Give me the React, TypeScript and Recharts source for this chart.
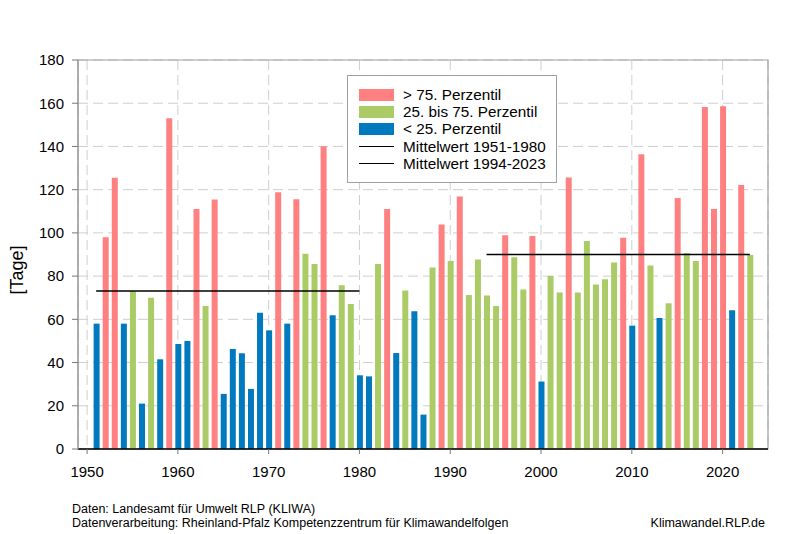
import { ComposedChart, Bar, Line, XAxis, YAxis, CartesianGrid, ReferenceArea, Legend } from "recharts";

const FONT = "'Liberation Sans', Arial, sans-serif";

const YEARS = [
  1951, 1952, 1953, 1954, 1955, 1956, 1957, 1958, 1959,
  1960, 1961, 1962, 1963, 1964, 1965, 1966, 1967, 1968, 1969,
  1970, 1971, 1972, 1973, 1974, 1975, 1976, 1977, 1978, 1979,
  1980, 1981, 1982, 1983, 1984, 1985, 1986, 1987, 1988, 1989,
  1990, 1991, 1992, 1993, 1994, 1995, 1996, 1997, 1998, 1999,
  2000, 2001, 2002, 2003, 2004, 2005, 2006, 2007, 2008, 2009,
  2010, 2011, 2012, 2013, 2014, 2015, 2016, 2017, 2018, 2019,
  2020, 2021, 2022, 2023,
];

// Tage pro Jahr
const DAYS = [
  58, 98, 125.5, 58, 73, 21, 70, 41.5, 153,
  48.6, 50, 111, 66.2, 115.4, 25.5, 46.3, 44.3, 27.8, 63.1,
  54.9, 118.8, 58, 115.6, 90.3, 85.6, 140.1, 61.9, 75.8, 67.1,
  34.1, 33.6, 85.6, 111, 44.4, 73.3, 63.7, 15.9, 84, 103.9,
  87, 116.8, 71.3, 87.7, 71, 66.2, 98.9, 88.7, 73.8, 98.6,
  31.2, 80.1, 72.4, 125.6, 72.4, 96.3, 76.1, 78.5, 86.3, 97.8,
  57.1, 136.4, 84.9, 60.6, 67.4, 116.2, 90.7, 87, 158.3, 111,
  158.6, 64.2, 122.2, 89.8,
];

// h = > 75. Perzentil, m = 25. bis 75., l = < 25.
const CLASS = [
  "l", "h", "h", "l", "m", "l", "m", "l", "h",
  "l", "l", "h", "m", "h", "l", "l", "l", "l", "l",
  "l", "h", "l", "h", "m", "m", "h", "l", "m", "m",
  "l", "l", "m", "h", "l", "m", "l", "l", "m", "h",
  "m", "h", "m", "m", "m", "m", "h", "m", "m", "h",
  "l", "m", "m", "h", "m", "m", "m", "m", "m", "h",
  "l", "h", "m", "l", "m", "h", "m", "m", "h", "h",
  "h", "l", "h", "m",
];

const MEAN_1951_1980 = 73.1;
const MEAN_1994_2023 = 90.0;

const SERIES_NAMES = [
  "> 75. Perzentil",
  "25. bis 75. Perzentil",
  "< 25. Perzentil",
  "Mittelwert 1951-1980",
  "Mittelwert 1994-2023",
];

const X_TICKS = [1950, 1960, 1970, 1980, 1990, 2000, 2010, 2020];
const Y_TICKS = [0, 20, 40, 60, 80, 100, 120, 140, 160, 180];

const RED = "#ff8080";
const GREEN = "#aacb66";
const BLUE = "#0079bf";

const data = YEARS.map((year, i) => ({
  year,
  hi: CLASS[i] === "h" ? DAYS[i] : null,
  mid: CLASS[i] === "m" ? DAYS[i] : null,
  lo: CLASS[i] === "l" ? DAYS[i] : null,
  m1: year >= 1951 && year <= 1980 ? MEAN_1951_1980 : null,
  m2: year >= 1994 && year <= 2023 ? MEAN_1994_2023 : null,
}));

function LegendBox({ payload }: any) {
  const items = [...(payload || [])].sort(
    (a: any, b: any) => SERIES_NAMES.indexOf(a.value) - SERIES_NAMES.indexOf(b.value)
  );
  return (
    <div
      style={{
        border: "1px solid #a0a0a0",
        background: "#fff",
        padding: "10px 10px 10px 11px",
        fontFamily: FONT,
        fontSize: 15.3,
        lineHeight: "17.2px",
        color: "#000",
      }}
    >
      {items.map((p: any) => (
        <div key={p.value} style={{ display: "flex", alignItems: "center", whiteSpace: "nowrap" }}>
          {p.type === "line" ? (
            <span style={{ display: "inline-block", width: 35, height: 0, borderTop: "1.5px solid #000", marginRight: 9 }} />
          ) : (
            <span style={{ display: "inline-block", width: 35, height: 12, background: p.color, marginRight: 9 }} />
          )}
          <span>{p.value}</span>
        </div>
      ))}
    </div>
  );
}

export default function App() {
  return (
    <div style={{ position: "absolute", left: 0, top: 0, width: 800, height: 534, background: "#fff", fontFamily: FONT }}>
      <ComposedChart width={800} height={534} data={data} margin={{ top: 60, right: 32, bottom: 68, left: 20 }}>
        <CartesianGrid stroke="#cfcfcf" strokeDasharray="10 5" />
        <ReferenceArea x1={1949} x2={2025} y1={0} y2={180} fill="none" stroke="#a0a0a0" strokeWidth={1.2} />
        <XAxis
          dataKey="year"
          type="number"
          domain={[1949, 2025]}
          ticks={X_TICKS}
          interval={0}
          allowDataOverflow
          axisLine={{ stroke: "#000", strokeWidth: 1.5 }}
          tickLine={{ stroke: "#777" }}
          tickSize={5}
          tickMargin={12}
          tick={{ fill: "#000", fontSize: 15, fontFamily: FONT }}
          height={17}
        />
        <YAxis
          type="number"
          domain={[0, 180]}
          ticks={Y_TICKS}
          interval={0}
          width={58}
          axisLine={{ stroke: "#a0a0a0", strokeWidth: 1.2 }}
          tickLine={{ stroke: "#777" }}
          tickSize={6}
          tickMargin={8}
          tick={{ fill: "#000", fontSize: 15, fontFamily: FONT }}
        />
        <Bar dataKey="hi" name={SERIES_NAMES[0]} stackId="a" fill={RED} barSize={6} isAnimationActive={false} />
        <Bar dataKey="mid" name={SERIES_NAMES[1]} stackId="a" fill={GREEN} barSize={6} isAnimationActive={false} />
        <Bar dataKey="lo" name={SERIES_NAMES[2]} stackId="a" fill={BLUE} barSize={6} isAnimationActive={false} />
        <Line dataKey="m1" name={SERIES_NAMES[3]} stroke="#000" strokeWidth={1.3} dot={false} activeDot={false} isAnimationActive={false} />
        <Line dataKey="m2" name={SERIES_NAMES[4]} stroke="#000" strokeWidth={1.3} dot={false} activeDot={false} isAnimationActive={false} />
        <Legend
          layout="vertical"
          align="center"
          verticalAlign="middle"
          wrapperStyle={{ left: 347, top: 75, width: 210, height: "auto" }}
          content={LegendBox}
        />
      </ComposedChart>
      <div
        style={{
          position: "absolute",
          left: 17,
          top: 270,
          transform: "translate(-50%, -50%) rotate(-90deg)",
          fontSize: 18,
          whiteSpace: "nowrap",
        }}
      >
        [Tage]
      </div>
      <div style={{ position: "absolute", left: 72, top: 503, fontSize: 12.5, lineHeight: "13.5px", whiteSpace: "nowrap" }}>
        <div>Daten: Landesamt für Umwelt RLP (KLIWA)</div>
        <div>Datenverarbeitung: Rheinland-Pfalz Kompetenzzentrum für Klimawandelfolgen</div>
      </div>
      <div style={{ position: "absolute", right: 35, top: 516.5, fontSize: 12.5, lineHeight: "13.5px", whiteSpace: "nowrap" }}>
        Klimawandel.RLP.de
      </div>
    </div>
  );
}
